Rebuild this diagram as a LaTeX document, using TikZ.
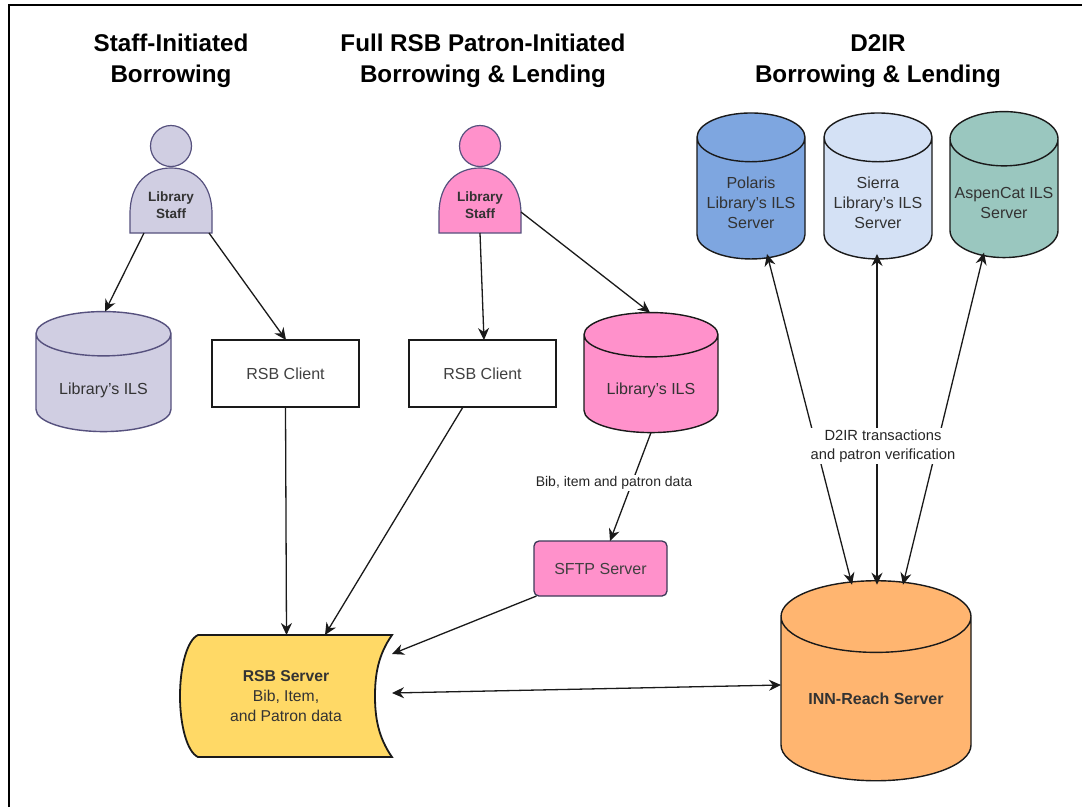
\documentclass[tikz,border=0pt]{standalone}
\usepackage{fontspec}
\setmainfont{Liberation Sans}
\usetikzlibrary{shapes.geometric,arrows.meta,calc}
\definecolor{edgeC}{HTML}{1A1A1A}
\definecolor{purpleC}{HTML}{D0CEE2}
\definecolor{purpleD}{HTML}{56517E}
\definecolor{pinkC}{HTML}{FF91CB}
\definecolor{blueC}{HTML}{7EA6E0}
\definecolor{paleC}{HTML}{D4E1F5}
\definecolor{greenC}{HTML}{9AC7BF}
\definecolor{orangeC}{HTML}{FFB570}
\definecolor{yellowC}{HTML}{FFD966}
\tikzset{
  x=1pt,y=-1pt,
  db/.style={shape=cylinder,shape border rotate=90,draw=edgeC,line width=1.4pt,cylinder uses custom fill,align=center,font=\fontsize{16}{20}\selectfont,text=black!80,inner sep=0pt,outer sep=0pt},
  dbtxt/.style={align=center,inner sep=0pt,font=\fontsize{16}{20}\selectfont,text=black!80},
  box/.style={draw=edgeC,line width=1.3pt,fill=white,minimum width=147pt,minimum height=67pt,inner sep=0pt,outer sep=0pt,font=\fontsize{16}{18}\selectfont,text=black!75},
  title/.style={align=center,font=\bfseries\fontsize{24.2}{31}\selectfont},
  lab/.style={fill=white,align=center,inner sep=1.5pt,font=\fontsize{14}{19}\selectfont,text=black!85},
  conn/.style={-{Stealth[length=12pt,width=11pt]},line width=1.3pt,edgeC},
  dconn/.style={{Stealth[length=12pt,width=11pt]}-{Stealth[length=12pt,width=11pt]},line width=1.3pt,edgeC},
  head/.style={circle,draw,line width=1.2pt,minimum size=41pt,inner sep=0pt,outer sep=0pt},
  torso/.style={minimum width=82pt,minimum height=55pt,inner sep=0pt,outer sep=0pt,align=center,font=\bfseries\fontsize{13.5}{17}\selectfont,text=black!80},
}
\newcommand{\torsopath}[3]{% centre x, fill, draw
  \filldraw[fill=#2,draw=#3,line width=1.2pt] (#1-41,233) -- (#1-41,214) .. controls (#1-41,182) and (#1-22,168) .. (#1,168) .. controls (#1+22,168) and (#1+41,182) .. (#1+41,214) -- (#1+41,233) -- cycle;
}
\begin{document}
\begin{tikzpicture}
\useasboundingbox (0,0) rectangle (1082,807);
\fill[white] (0,0) rectangle (1082,807);
\draw[line width=1.3pt,black] (9,807) -- (9,5) -- (1082,5);

\node[title] (t1) at (171,61) {Staff-Initiated\\Borrowing};
\node[title] (t2) at (483,61) {Full RSB Patron-Initiated\\Borrowing \& Lending};
\node[title] (t3) at (878,61) {D2IR\\Borrowing \& Lending};

% staff 1
\node[head,fill=purpleC,draw=purpleD] (h1) at (171,146) {};
\torsopath{171}{purpleC}{purpleD}
\node[torso] (s1) at (171,205.5) {Library\\Staff};
% staff 2
\node[head,fill=pinkC,draw=purpleD] (h2) at (480,146) {};
\torsopath{480}{pinkC}{purpleD}
\node[torso] (s2) at (480,205.5) {Library\\Staff};

% databases
\node[db,cylinder body fill=purpleC,cylinder end fill=purpleC,draw=purpleD,minimum height=120pt,minimum width=135pt,aspect=.5] (ils1) at (103.5,383) {\phantom{Library's ILS}};
\node[dbtxt] (ils1t) at (103.5,390) {Library's ILS};
\node[db,cylinder body fill=pinkC,cylinder end fill=pinkC,minimum height=120pt,minimum width=134pt,aspect=.5] (ils2) at (651,384) {\phantom{Library's ILS}};
\node[dbtxt] (ils2t) at (651,390) {Library's ILS};
\node[db,cylinder body fill=blueC,cylinder end fill=blueC,minimum height=146pt,minimum width=108pt,aspect=.55] (pol) at (751,198.5) {\phantom{Library's ILS}};
\node[dbtxt] (polt) at (751,203) {Polaris\\Library's ILS\\Server};
\node[db,cylinder body fill=paleC,cylinder end fill=paleC,minimum height=146pt,minimum width=108pt,aspect=.55] (sie) at (878,198.5) {\phantom{Library's ILS}};
\node[dbtxt] (siet) at (878,203) {Sierra\\Library's ILS\\Server};
\node[db,cylinder body fill=greenC,cylinder end fill=greenC,minimum height=146pt,minimum width=108pt,aspect=.55] (asp) at (1004,198.5) {\phantom{AspenCat ILS}};
\node[dbtxt] (aspt) at (1004,203) {AspenCat ILS\\Server};
\node[db,cylinder body fill=orangeC,cylinder end fill=orangeC,minimum height=200pt,minimum width=190pt,aspect=.53,font=\bfseries\fontsize{16}{18}\selectfont] (inn) at (876,699) {INN-Reach Server};

% boxes
\node[box] (c1) at (285.5,373.5) {RSB Client};
\node[box] (c2) at (482.5,373.5) {RSB Client};
\node[box,fill=pinkC,rounded corners=5pt,draw=purpleD!70!black,minimum width=133pt,minimum height=55pt] (sftp) at (600.5,568.5) {SFTP Server};

% RSB server
\filldraw[fill=yellowC,draw=edgeC,line width=1.8pt] (198,635) -- (392,635) .. controls (378,655) and (375,675) .. (375,696) .. controls (375,717) and (378,737) .. (392,757) -- (198,757) .. controls (187,752) and (180,725) .. (180,696) .. controls (180,667) and (187,640) .. (198,635) -- cycle;
\node[align=center,inner sep=0pt,outer sep=0pt,minimum width=212pt,minimum height=122pt,font=\fontsize{15.7}{20}\selectfont,text=black!80] (rsb) at (286,696) {\textbf{RSB Server}\\Bib, Item,\\and Patron data};

% connectors
\draw[conn] ([xshift=-27pt]s1.south) -- ([xshift=1.5pt]ils1.north);
\draw[conn] ([xshift=38pt]s1.south) -- ([xshift=.5pt]c1.north);
\draw[conn] (s2.south) -- ([xshift=1.5pt]c2.north);
\draw[conn] ([yshift=-6.5pt]s2.east) -- ([xshift=-1pt]ils2.north);
\draw[conn] (c1.south) -- ([xshift=.5pt]rsb.north);
\draw[conn] ([xshift=-19.5pt]c2.south) -- ([xshift=39pt]rsb.north);
\draw[conn] (ils2.south) -- ([xshift=9.5pt]sftp.north);
\draw[conn] ([xshift=-64pt]sftp.south) -- ([yshift=42pt]rsb.east);
\draw[dconn] ([yshift=3pt]rsb.east) -- ([yshift=14pt]inn.west);
\draw[dconn] ([xshift=16pt,yshift=5pt]pol.south) -- ([xshift=-24pt,yshift=-4pt]inn.north);
\draw[dconn] ([xshift=-1pt,yshift=5pt]sie.south) -- ([xshift=1pt,yshift=-4pt]inn.north);
\draw[dconn] ([xshift=-20pt,yshift=5pt]asp.south) -- ([xshift=27pt,yshift=-4pt]inn.north);

\node[lab] (l1) at (614,483) {Bib, item and patron data};
\node[lab,font=\fontsize{14.7}{19}\selectfont] (l2) at (883,446) {D2IR transactions\\and patron verification};
\end{tikzpicture}
\end{document}
